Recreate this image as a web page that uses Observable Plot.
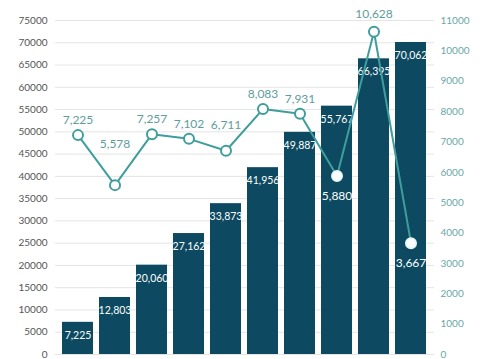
<!DOCTYPE html>
<html>
<head>
<meta charset="utf-8">
<script src="https://cdn.jsdelivr.net/npm/d3@7"></script>
<script src="https://cdn.jsdelivr.net/npm/@observablehq/plot@0.6"></script>
<style>
  html, body { margin: 0; padding: 0; background: #fff; }
  #chart svg { display: block; }
</style>
</head>
<body>
<div id="chart"></div>
<script>
// Data
const periods = ["1","2","3","4","5","6","7","8","9","10"];
const cumulative = [7225, 12803, 20060, 27162, 33873, 41956, 49887, 55767, 66395, 70062];
const annual = [7225, 5578, 7257, 7102, 6711, 8083, 7931, 5880, 10628, 3667];
const leftTicks = d3.range(0, 75001, 5000);
const rightTicks = d3.range(0, 11001, 1000);

const LMAX = 75000, RMAX = 11000;
const k = LMAX / RMAX;
const fmt = d3.format(",");

const W = 481, H = 359, MT = 20, MB = 5;
const pxToY = LMAX / (H - MT - MB); // data units per pixel on left scale

const rows = periods.map((p, i) => ({
  p, cum: cumulative[i], ann: annual[i], annL: annual[i] * k
}));
// label placement: below if the point sits inside a bar, above otherwise
const inside = d => d.annL < d.cum;
const liftPx = { "2": -41, "5": -26, "9": -18 }; // labels lifted clear of the line
const labelOffsetPx = d => inside(d) ? 20 : (liftPx[d.p] ?? -15);

const teal = "#3f9e9c";
const bar = "#0d4a62";

const chart = Plot.plot({
  width: W,
  height: H,
  marginLeft: 55,
  marginRight: 47,
  marginTop: MT,
  marginBottom: MB,
  style: { fontFamily: "Lato, 'Open Sans', sans-serif", background: "#fff" },
  x: { domain: periods, paddingInner: 0.16, paddingOuter: 0.08, axis: null },
  y: { domain: [0, LMAX], axis: null },
  marks: [
    Plot.gridY(leftTicks, { stroke: "#e4e4e4", strokeOpacity: 1 }),
    Plot.axisY(leftTicks, { anchor: "left", tickSize: 0, tickPadding: 8, fontSize: 10, fill: "#555", tickFormat: d => String(d) }),
    Plot.axisY(rightTicks.map(v => v * k), { anchor: "right", tickSize: 0, tickPadding: 6, fontSize: 10, fill: "#6aa8a6", tickFormat: d => String(Math.round(d / k)) }),
    Plot.barY(rows, { x: "p", y: "cum", fill: bar }),
    Plot.text(rows, { x: "p", y: "cum", text: d => fmt(d.cum), fill: "#fff", fontSize: 10.5, dy: 13, letterSpacing: "-0.7px" }),
    Plot.line(rows, { x: "p", y: "annL", stroke: teal, strokeWidth: 2 }),
    Plot.dot(rows, { x: "p", y: "annL", r: 5, fill: "#fff", stroke: d => inside(d) ? "#e8f8f8" : teal, strokeWidth: 2 }),
    Plot.text(rows, { x: "p", y: d => d.annL - labelOffsetPx(d) * pxToY, text: d => fmt(d.ann),
      fill: d => inside(d) ? "#fff" : "#5e9d9b", fontSize: 12, letterSpacing: "-0.3px" })
  ]
});

document.getElementById("chart").appendChild(chart);
</script>
</body>
</html>
